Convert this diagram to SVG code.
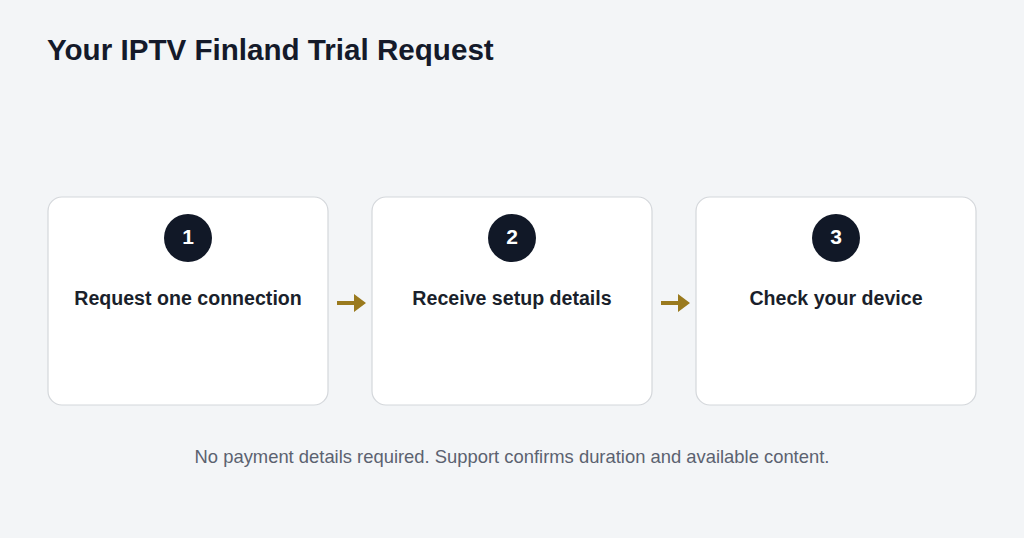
<svg xmlns="http://www.w3.org/2000/svg" width="1024" height="538" viewBox="0 0 1024 538">
<style>
.card{fill:#fff;stroke:#d4d7db;stroke-width:1.2}
.num{fill:#111827}
.nt{fill:#fff;font:bold 21px "Liberation Sans",Arial,sans-serif;text-anchor:middle}
.lbl{fill:#1a1f2b;font:bold 19.6px "Liberation Sans",Arial,sans-serif;text-anchor:middle}
.arr{fill:#9a7a1e}
</style>
<rect width="1024" height="538" fill="#f3f5f7"/>
<text x="47" y="60" font-family="Liberation Sans,Arial,sans-serif" font-weight="bold" font-size="29.6" fill="#141a2a">Your IPTV Finland Trial Request</text>
<g id="node1"><rect class="card" x="48" y="197" width="280" height="208" rx="14"/><circle class="num" cx="188" cy="238" r="24"/><text class="nt" x="188" y="244">1</text><text class="lbl" x="188" y="305">Request one connection</text></g>
<g id="node2"><rect class="card" x="372" y="197" width="280" height="208" rx="14"/><circle class="num" cx="512" cy="238" r="24"/><text class="nt" x="512" y="244">2</text><text class="lbl" x="512" y="305">Receive setup details</text></g>
<g id="node3"><rect class="card" x="696" y="197" width="280" height="208" rx="14"/><circle class="num" cx="836" cy="238" r="24"/><text class="nt" x="836" y="244">3</text><text class="lbl" x="836" y="305">Check your device</text></g>
<g id="connectors">
<path class="arr" d="M337 301h17v-7l12 9l-12 9v-7h-17z"/>
<path class="arr" d="M661 301h17v-7l12 9l-12 9v-7h-17z"/>
</g>
<text x="512" y="463" text-anchor="middle" font-family="Liberation Sans,Arial,sans-serif" font-size="18.4" fill="#5b6270">No payment details required. Support confirms duration and available content.</text>
</svg>
